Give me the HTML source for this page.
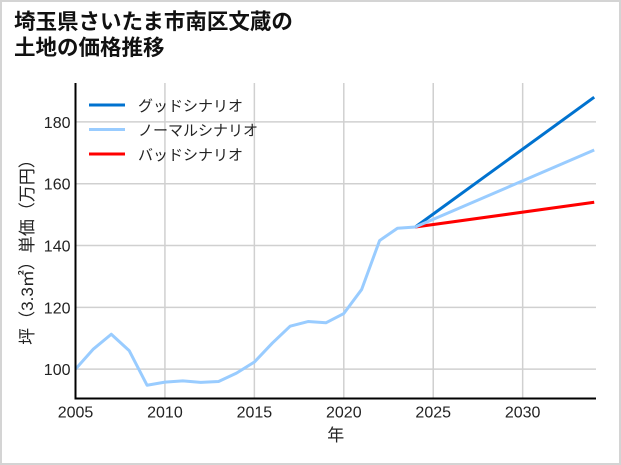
<!DOCTYPE html>
<html><head><meta charset="utf-8"><style>
html,body{margin:0;padding:0;background:#fff}
body{width:621px;height:465px;overflow:hidden;font-family:"Liberation Sans","Noto Sans CJK JP",sans-serif}
#frame{position:absolute;left:0;top:0;width:617px;height:461px;border:2px solid #d4d4d4}
#title{position:absolute;left:14px;top:9px;font-size:21.5px;font-weight:bold;line-height:26px;color:#111;font-family:"Liberation Sans","Noto Sans CJK JP",sans-serif}
</style></head><body>
<div id="frame"></div>
<div id="title">埼玉県さいたま市南区文蔵の<br>土地の価格推移</div>
<svg id="chart" width="621" height="465" style="position:absolute;left:0;top:0"></svg>
<script>
const years = [2005,2006,2007,2008,2009,2010,2011,2012,2013,2014,2015,2016,2017,2018,2019,2020,2021,2022,2023,2024];
const normalHist = [100,106.5,111.3,106,94.8,95.8,96.2,95.7,96.0,98.7,102.3,108.4,113.9,115.4,115.0,118,125.8,141.6,145.6,146];
const projYears = [2024,2034];
const goodProj = [146,188];
const normalProj = [146,170.9];
const badProj = [146,154];
const xTicks = [2005,2010,2015,2020,2025,2030];
const yTicks = [100,120,140,160,180];
const legendLabels = ["グッドシナリオ","ノーマルシナリオ","バッドシナリオ"];
const legendColors = ["#0072cf","#99ccff","#ff0000"];

const L=75.5,R=596,T=83,B=398.5;
const x0=2005,x1=2034.1,y0=90.5,y1=192.6;
const X=v=>L+(v-x0)/(x1-x0)*(R-L);
const Y=v=>B-(v-y0)/(y1-y0)*(B-T);
const svg=document.getElementById('chart');
const NS='http://www.w3.org/2000/svg';
function mk(tag,attrs){const e=document.createElementNS(NS,tag);for(const k in attrs)e.setAttribute(k,attrs[k]);svg.appendChild(e);return e;}
xTicks.forEach(t=>{
  const g=mk('line',{x1:X(t),x2:X(t),y1:T,y2:B,stroke:'#d0d0d0','stroke-width':1.5});
  
  
  const tx=mk('text',{x:X(t),y:B+19,'text-anchor':'middle','font-size':16,fill:'#222','font-family':'"Liberation Sans Narrow","Liberation Sans",sans-serif'});
  tx.textContent=t;
  
  
});
yTicks.forEach(t=>{
  const g=mk('line',{x1:L,x2:R,y1:Y(t),y2:Y(t),stroke:'#d0d0d0','stroke-width':1.5});
  
  
  const tx=mk('text',{x:L-5,y:Y(t)+6,'text-anchor':'end','font-size':16,fill:'#222','font-family':'"Liberation Sans Narrow","Liberation Sans",sans-serif'});
  tx.textContent=t;
  
  
});
function line(xs,ys,color,name){
  const p=mk('polyline',{points:xs.map((v,i)=>X(v)+','+Y(ys[i])).join(' '),fill:'none',stroke:color,'stroke-width':3,'stroke-linejoin':'round'});
  
  
}
line(projYears,goodProj,legendColors[0],'good-scenario-line');
line(projYears,badProj,legendColors[2],'bad-scenario-line');
line(projYears,normalProj,legendColors[1],'normal-scenario-projection');
line(years,normalHist,legendColors[1],'normal-scenario-history');
const ax1=mk('line',{x1:L,x2:L,y1:T,y2:B+1,stroke:'#000','stroke-width':2});


const ax2=mk('line',{x1:L-1,x2:R,y1:B,y2:B,stroke:'#000','stroke-width':2});


legendLabels.forEach((lab,i)=>{
  const y=105+i*24.5;
  const l=mk('line',{x1:89,x2:125,y1:y,y2:y,stroke:legendColors[i],'stroke-width':3});
  
  
  const t=mk('text',{x:138,y:y+6,'font-size':15,fill:'#222','font-family':'"Liberation Sans","Noto Sans CJK JP",sans-serif'});
  t.textContent=lab;
  
  
});
const xt=mk('text',{x:(L+R)/2,y:441,'text-anchor':'middle','font-size':17,fill:'#222','font-family':'"Liberation Sans","Noto Sans CJK JP",sans-serif'});
xt.textContent='年';


const yt=mk('text',{x:0,y:0,'text-anchor':'middle','font-size':17,fill:'#222',transform:'translate(33,248) rotate(-90)','font-family':'"Liberation Sans","Noto Sans CJK JP",sans-serif'});
yt.textContent='坪（3.3㎡）単価（万円）';


</script>
</body></html>
